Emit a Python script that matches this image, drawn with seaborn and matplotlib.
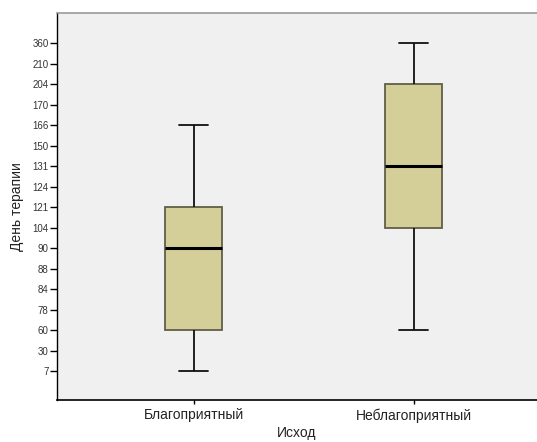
import matplotlib
matplotlib.use("Agg")
import matplotlib.pyplot as plt
import seaborn as sns
import pandas as pd

# Ordinal y-axis tick labels (days of therapy), equally spaced
tick_days = [7, 30, 60, 78, 84, 88, 90, 104, 121, 124, 131, 150, 166, 170, 204, 210, 360]
groups = ["Благоприятный", "Неблагоприятный"]
# five-number summaries (min, Q1, median, Q3, max)
fav_days = [7, 60, 90, 121, 166]
unfav_days = [60, 104, 131, 204, 360]

rows = []
for g, vals in zip(groups, [fav_days, unfav_days]):
    for d in vals:
        rows.append({"Исход": g, "rank": tick_days.index(d)})
df = pd.DataFrame(rows)

sns.set_style("white")
plt.rcParams["font.family"] = ["Liberation Sans", "DejaVu Sans"]

fig = plt.figure(figsize=(5.37, 4.42), dpi=100)
ax = fig.add_axes([57 / 537, 42 / 442, 480 / 537, 387.5 / 442])
ax.set_facecolor("#F0F0F0")

sns.boxplot(
    data=df, x="Исход", y="rank", order=groups, ax=ax,
    width=0.26, color="#D4CF98", saturation=1, whis=1.5,
    linecolor="#000000", linewidth=1.3,
    boxprops=dict(edgecolor="#5f5f48", linewidth=1.3),
    medianprops=dict(color="#000000", linewidth=2.2),
    whiskerprops=dict(color="#111111", linewidth=1.3),
    capprops=dict(color="#111111", linewidth=1.3),
)

ax.set_xlim(-0.62, 1.56)
ax.set_ylim(-1.41, 17.49)
ax.set_yticks(range(len(tick_days)))
ax.set_yticklabels([str(d) for d in tick_days], fontsize=7, color="#333333")
ax.tick_params(axis="y", length=5, width=1, color="#000000", pad=1, left=True)
ax.tick_params(axis="x", length=3, width=1, color="#000000", labelsize=10, pad=3, bottom=True)
for lab in ax.get_xticklabels():
    lab.set_color("#222222")

ax.set_ylabel("День терапии", fontsize=10, color="#222222", labelpad=6)
ax.set_xlabel("Исход", fontsize=10, color="#222222", labelpad=2)

ax.spines["right"].set_visible(False)
ax.spines["top"].set_color("#999999")
ax.spines["top"].set_linewidth(1.2)
ax.spines["left"].set_color("#000000")
ax.spines["bottom"].set_color("#000000")
ax.spines["left"].set_linewidth(1.0)
ax.spines["bottom"].set_linewidth(1.2)

fig.savefig("out.png", dpi=100, facecolor="white")
